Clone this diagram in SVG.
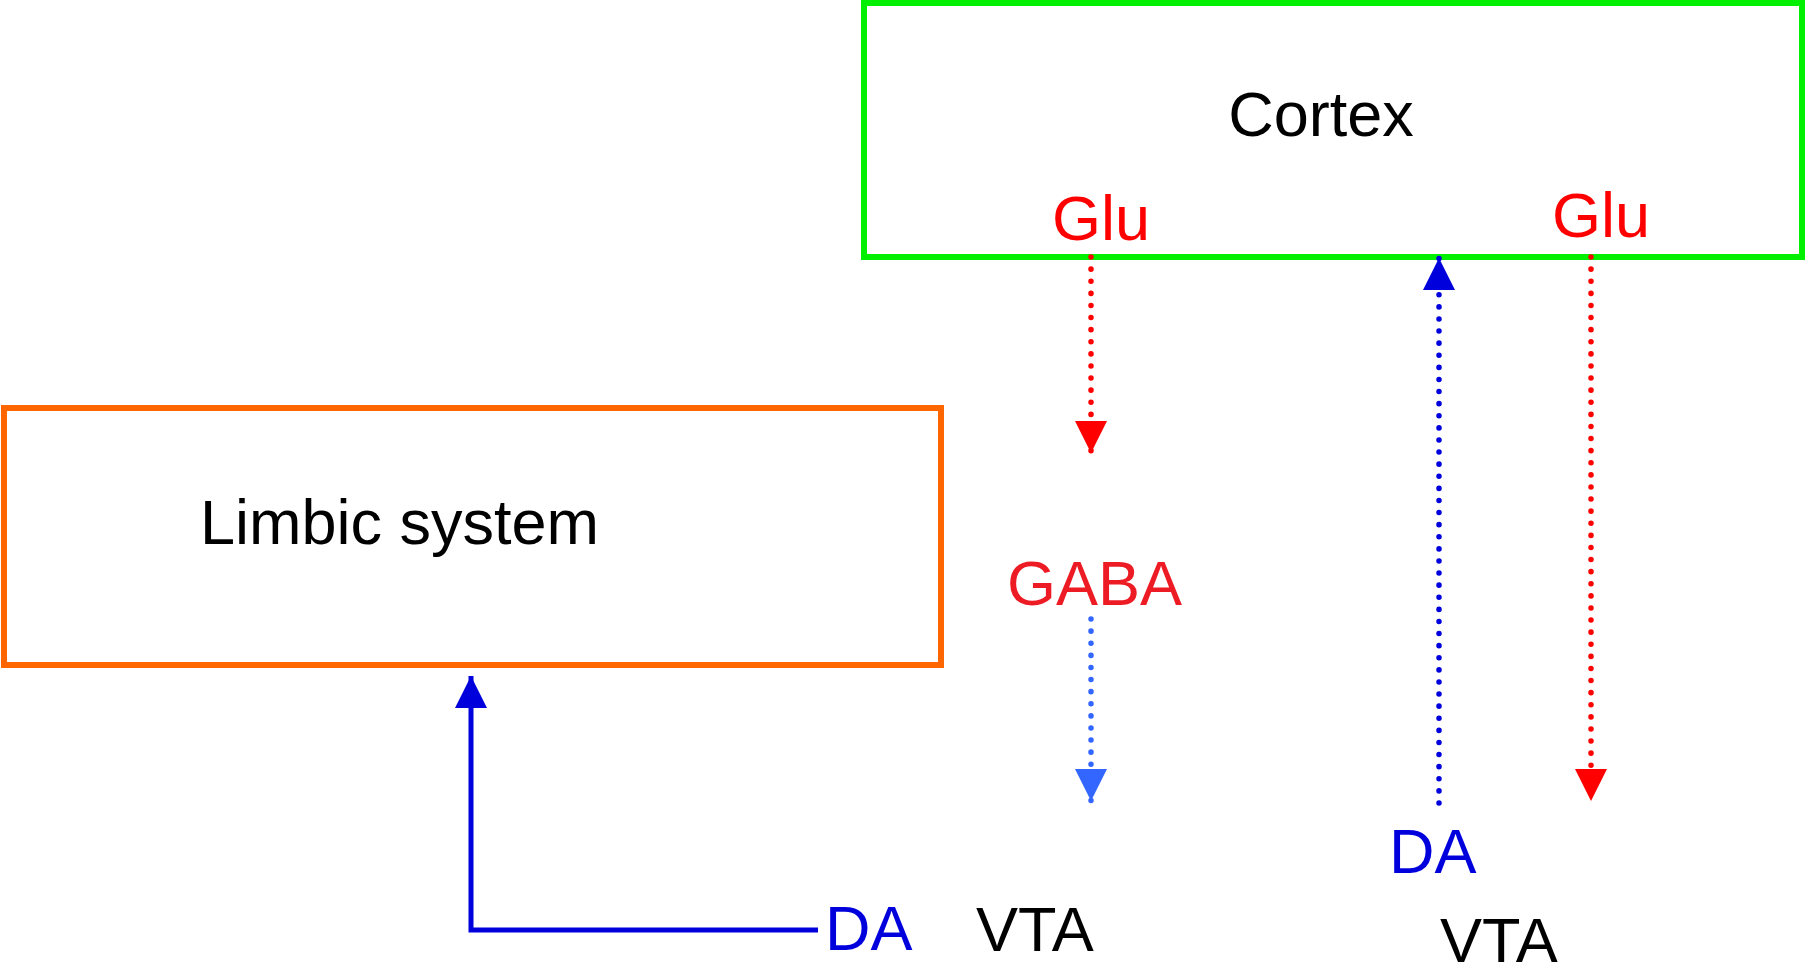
<svg xmlns="http://www.w3.org/2000/svg" width="1806" height="965" viewBox="0 0 1806 965">
<style>
text{font-family:"Liberation Sans",Arial,sans-serif;font-size:63px}
.box{fill:none;stroke-width:6}
.dot{fill:none;stroke-width:5.5;stroke-linecap:round;stroke-dasharray:0.1 12}
</style>
<defs>
<marker id="hRed" markerUnits="userSpaceOnUse" markerWidth="32" markerHeight="32" viewBox="0 0 30 30" refX="30" refY="15" orient="auto"><path d="M0,0 L30,15 L0,30 Z" fill="#ff0000"/></marker>
<marker id="hLb" markerUnits="userSpaceOnUse" markerWidth="32" markerHeight="32" viewBox="0 0 30 30" refX="30" refY="15" orient="auto"><path d="M0,0 L30,15 L0,30 Z" fill="#3366ff"/></marker>
<marker id="hBlue" markerUnits="userSpaceOnUse" markerWidth="32" markerHeight="32" viewBox="0 0 30 30" refX="30" refY="15" orient="auto"><path d="M0,0 L30,15 L0,30 Z" fill="#0000dd"/></marker>
</defs>
<rect width="1806" height="965" fill="#fff"/>
<g id="cortex">
<rect class="box" x="864" y="3" width="938" height="254" stroke="#00f000"/>
<text x="1321" y="136" text-anchor="middle" fill="#000">Cortex</text>
<text x="1052" y="240" fill="#ff0000">Glu</text>
<text x="1552" y="237" fill="#ff0000">Glu</text>
</g>
<g id="limbic">
<rect class="box" x="4" y="408" width="937" height="257" stroke="#ff6600"/>
<text x="200" y="544" fill="#000">Limbic system</text>
</g>
<g id="gaba"><text x="1007" y="605" fill="#ed1c24">GABA</text></g>
<g id="vta-left">
<text x="825" y="950" fill="#0000dd">DA</text>
<text x="976" y="951" fill="#000">VTA</text>
</g>
<g id="vta-right">
<text x="1389" y="873" fill="#0000dd">DA</text>
<text x="1440" y="962" fill="#000">VTA</text>
</g>
<g id="connectors">
<line class="dot" x1="1091" y1="257" x2="1091" y2="453" stroke="#ff0000" marker-end="url(#hRed)"/>
<line class="dot" x1="1091" y1="619" x2="1091" y2="801" stroke="#3366ff" marker-end="url(#hLb)"/>
<line class="dot" x1="1439" y1="803" x2="1439" y2="258" stroke="#0000dd" marker-end="url(#hBlue)"/>
<line class="dot" x1="1591" y1="257" x2="1591" y2="801" stroke="#ff0000" marker-end="url(#hRed)"/>
<path d="M818,930 L471,930 L471,676" fill="none" stroke="#0000dd" stroke-width="5" marker-end="url(#hBlue)"/>
</g>
</svg>
